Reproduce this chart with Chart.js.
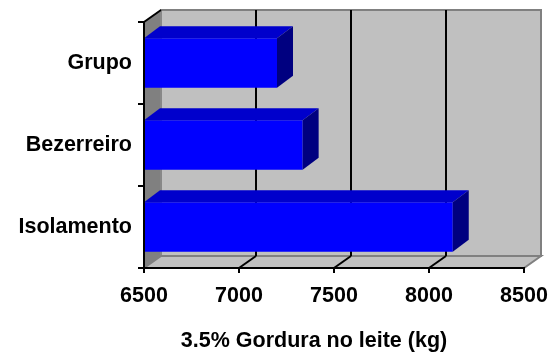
<!DOCTYPE html>
<html>
<head>
<meta charset="utf-8">
<script src="https://cdn.jsdelivr.net/npm/chart.js@4/dist/chart.umd.min.js"></script>
<style>
  html, body { margin: 0; padding: 0; background: #ffffff; }
  #wrap { width: 553px; height: 352px; }
</style>
</head>
<body>
<div id="wrap"><canvas id="c" width="553" height="352"></canvas></div>
<script>
// Milk fat yield (3.5% corrected) per calf-rearing system
const categories = ['Grupo', 'Bezerreiro', 'Isolamento'];
const fatYield = [7200, 7335, 8125];
const xTicks = [6500, 7000, 7500, 8000, 8500];
const axisTitle = '3.5% Gordura no leite (kg)';

const FONT_FAMILY = '"Liberation Sans", Arial, Helvetica, sans-serif';
const WALL = { dx: 17, dy: 12 };   // depth of the walls / floor
const BAR = { dx: 16, dy: 12 };    // depth of each bar

// Draws the pseudo-3D box: back wall, left wall, floor and gridlines,
// the extruded faces of the bars and the axis title.
const box3d = {
  id: 'box3d',
  beforeDraw(chart) {
    const { ctx, chartArea: a, scales: { x } } = chart;
    const L = a.left, R = a.right, T = a.top, B = a.bottom;
    const dx = WALL.dx, dy = WALL.dy;
    ctx.save();
    ctx.lineJoin = 'miter';

    // back wall
    ctx.fillStyle = '#C0C0C0';
    ctx.fillRect(L + dx, T - dy, R - L, B - T);
    ctx.strokeStyle = '#808080';
    ctx.lineWidth = 2;
    ctx.strokeRect(L + dx, T - dy, R - L, B - T);

    // left wall
    ctx.beginPath();
    ctx.moveTo(L, T);
    ctx.lineTo(L + dx, T - dy);
    ctx.lineTo(L + dx, B - dy);
    ctx.lineTo(L, B);
    ctx.closePath();
    ctx.fillStyle = '#808080';
    ctx.fill();
    ctx.strokeStyle = '#909090';
    ctx.lineWidth = 1;
    ctx.stroke();

    // floor
    ctx.beginPath();
    ctx.moveTo(L, B);
    ctx.lineTo(L + dx, B - dy);
    ctx.lineTo(R + dx, B - dy);
    ctx.lineTo(R, B);
    ctx.closePath();
    ctx.fillStyle = '#C0C0C0';
    ctx.fill();
    ctx.strokeStyle = '#808080';
    ctx.lineWidth = 2;
    ctx.stroke();

    // gridlines on the back wall and across the floor
    ctx.strokeStyle = '#000000';
    ctx.lineWidth = 2;
    xTicks.slice(1, -1).forEach(v => {
      const px = Math.round(x.getPixelForValue(v));
      ctx.beginPath();
      ctx.moveTo(px + dx, T - dy);
      ctx.lineTo(px + dx, B - dy);
      ctx.stroke();
      ctx.beginPath();
      ctx.moveTo(px, B);
      ctx.lineTo(px + dx, B - dy);
      ctx.stroke();
    });
    ctx.restore();
  },
  afterDatasetsDraw(chart) {
    const { ctx, chartArea: a } = chart;
    const meta = chart.getDatasetMeta(0);
    ctx.save();
    meta.data.forEach(bar => {
      const p = bar.getProps(['x', 'y', 'base', 'height'], true);
      const x = p.x, height = p.height;
      const base = Math.max(p.base, a.left);   // bars start at the axis minimum
      const top = p.y - height / 2, bottom = p.y + height / 2;
      // top face
      ctx.beginPath();
      ctx.moveTo(base, top);
      ctx.lineTo(x, top);
      ctx.lineTo(x + BAR.dx, top - BAR.dy);
      ctx.lineTo(base + BAR.dx, top - BAR.dy);
      ctx.closePath();
      ctx.fillStyle = '#0000CC';
      ctx.fill();
      // end face
      ctx.beginPath();
      ctx.moveTo(x, top);
      ctx.lineTo(x + BAR.dx, top - BAR.dy);
      ctx.lineTo(x + BAR.dx, bottom - BAR.dy);
      ctx.lineTo(x, bottom);
      ctx.closePath();
      ctx.fillStyle = '#000080';
      ctx.fill();
    });
    ctx.restore();
  },
  afterDraw(chart, args, opts) {
    const { ctx, chartArea: a } = chart;
    ctx.save();
    // edge where the left wall meets the top
    ctx.strokeStyle = '#000000';
    ctx.lineWidth = 2;
    ctx.beginPath();
    ctx.moveTo(a.left, a.top);
    ctx.lineTo(a.left + WALL.dx, a.top - WALL.dy);
    ctx.stroke();
    // axis title
    ctx.fillStyle = '#000000';
    ctx.font = 'bold 21.5px ' + FONT_FAMILY;
    ctx.textAlign = 'center';
    ctx.textBaseline = 'alphabetic';
    ctx.fillText(axisTitle, opts.titleX, opts.titleY);
    ctx.restore();
  }
};

const tickFont = { family: FONT_FAMILY, size: 21.5, weight: 'bold' };

new Chart(document.getElementById('c'), {
  type: 'bar',
  data: {
    labels: categories,
    datasets: [{
      data: fatYield,
      backgroundColor: '#0000FF',
      borderWidth: 0,
      barPercentage: 0.605,
      categoryPercentage: 1.0
    }]
  },
  options: {
    indexAxis: 'y',
    responsive: false,
    devicePixelRatio: 1,
    animation: false,
    layout: { padding: { top: 22, right: 29, bottom: 0, left: 0 } },
    plugins: {
      legend: { display: false },
      tooltip: { enabled: false },
      box3d: { titleX: 314, titleY: 347 }
    },
    scales: {
      x: {
        type: 'linear',
        min: xTicks[0],
        max: xTicks[xTicks.length - 1],
        afterFit: s => {
          s.height = 84;
          s.paddingLeft = 0;
          s.paddingRight = 0;
        },
        ticks: {
          stepSize: xTicks[1] - xTicks[0],
          callback: v => String(v),
          color: '#000000',
          font: tickFont,
          padding: 10,
          maxRotation: 0,
          autoSkip: false
        },
        grid: {
          display: true,
          drawOnChartArea: false,
          drawTicks: true,
          tickLength: 5,
          color: '#000000',
          lineWidth: 2
        },
        border: { display: true, color: '#000000', width: 2, z: 1 }
      },
      y: {
        afterFit: s => { s.width = 144; },
        ticks: {
          color: '#000000',
          font: tickFont,
          padding: 6
        },
        grid: {
          display: true,
          drawOnChartArea: false,
          drawTicks: true,
          offset: true,
          tickLength: 6,
          color: '#000000',
          lineWidth: 2
        },
        border: { display: true, color: '#000000', width: 2, z: 1 }
      }
    }
  },
  plugins: [box3d]
});
</script>
</body>
</html>
